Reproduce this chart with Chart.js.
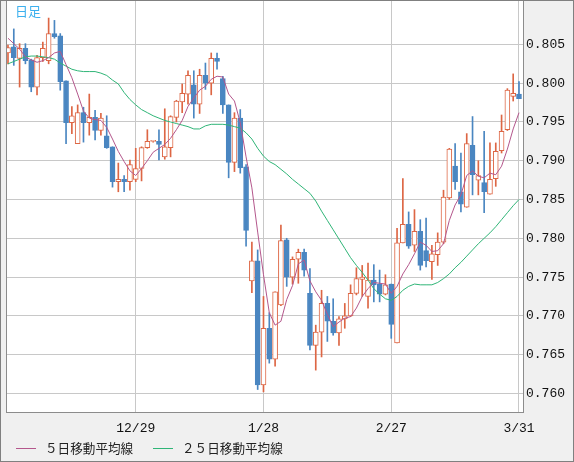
<!DOCTYPE html>
<html lang="ja">
<head>
<meta charset="utf-8">
<title>日足</title>
<script src="https://cdn.jsdelivr.net/npm/chart.js@4/dist/chart.umd.min.js"></script>
<style>
  html, body { margin: 0; padding: 0; background: #f0f0f0; }
  #wrap { position: relative; width: 574px; height: 462px; }
  #title { position: absolute; left: 15px; top: 4px; font: 13px/13px "Noto Sans CJK JP"; color: #3cb0ee; }
  .lg-line { position: absolute; top: 448px; width: 20px; height: 1px; }
  .lg-text { position: absolute; top: 440px; font: 12.6px/16px "Noto Sans CJK JP"; color: #222; white-space: nowrap; }
</style>
</head>
<body>
<div id="wrap">
  <canvas id="chart"></canvas>
  <div id="title">日足</div>
  <div class="lg-line" style="left:16px; background:#b4578c"></div>
  <div class="lg-text" style="left:45px">５日移動平均線</div>
  <div class="lg-line" style="left:153px; background:#2fb577"></div>
  <div class="lg-text" style="left:182px">２５日移動平均線</div>
</div>
<script>
// x axis labels and the candle index they sit on
const dateLabels = ["12/29", "1/28", "2/27", "3/31"];
const dateIndex = [22, 44, 66, 88];
const priceTicks = [0.760, 0.765, 0.770, 0.775, 0.780, 0.785, 0.790, 0.795, 0.800, 0.805];

// daily candles
const opens = [
  0.8039, 0.8047, 0.8032, 0.8045, 0.8030, 0.7995, 0.8033, 0.8029, 0.8064, 0.8061,
  0.8003, 0.7949, 0.7922, 0.7962, 0.7949, 0.7956, 0.7939, 0.7932, 0.7918, 0.7873,
  0.7876, 0.7873, 0.7876, 0.7890, 0.7917, 0.7925, 0.7925, 0.7905, 0.7917, 0.7956,
  0.7976, 0.7986, 0.7998, 0.7973, 0.8010, 0.8000, 0.8032, 0.8006, 0.7972, 0.7898,
  0.7955, 0.7892, 0.7745, 0.7771, 0.7611, 0.7684, 0.7644, 0.7714, 0.7798, 0.7750,
  0.7773, 0.7782, 0.7729, 0.7662, 0.7679, 0.7716, 0.7693, 0.7678, 0.7696, 0.7700,
  0.7729, 0.7747, 0.7725, 0.7746, 0.7741, 0.7728, 0.7741, 0.7665, 0.7794, 0.7818,
  0.7791, 0.7809, 0.7784, 0.7770, 0.7779, 0.7795, 0.7852, 0.7893, 0.7860, 0.7840,
  0.7920, 0.7875, 0.7872, 0.7857, 0.7877, 0.7913, 0.7940, 0.7983, 0.7986
];
const highs = [
  0.8049, 0.8070, 0.8051, 0.8051, 0.8031, 0.8036, 0.8053, 0.8084, 0.8081, 0.8064,
  0.8003, 0.7970, 0.7972, 0.7969, 0.7986, 0.7965, 0.7961, 0.7958, 0.7918, 0.7897,
  0.7881, 0.7901, 0.7916, 0.7918, 0.7940, 0.7926, 0.7940, 0.7967, 0.7958, 0.7978,
  0.7999, 0.8016, 0.8016, 0.8018, 0.8026, 0.8039, 0.8039, 0.8009, 0.7972, 0.7962,
  0.7966, 0.7895, 0.7795, 0.7785, 0.7725, 0.7704, 0.7731, 0.7817, 0.7800, 0.7776,
  0.7786, 0.7786, 0.7761, 0.7688, 0.7733, 0.7725, 0.7722, 0.7699, 0.7716, 0.7740,
  0.7762, 0.7765, 0.7768, 0.7766, 0.7759, 0.7753, 0.7741, 0.7813, 0.7877, 0.7834,
  0.7837, 0.7824, 0.7826, 0.7791, 0.7807, 0.7862, 0.7916, 0.7922, 0.7910, 0.7935,
  0.7957, 0.7900, 0.7938, 0.7923, 0.7923, 0.7959, 0.7993, 0.8012, 0.8002
];
const lows = [
  0.8025, 0.8023, 0.7995, 0.8025, 0.7989, 0.7985, 0.8028, 0.8025, 0.8058, 0.7991,
  0.7922, 0.7935, 0.7922, 0.7924, 0.7933, 0.7927, 0.7933, 0.7916, 0.7866, 0.7860,
  0.7860, 0.7862, 0.7873, 0.7874, 0.7916, 0.7924, 0.7901, 0.7902, 0.7905, 0.7950,
  0.7962, 0.7973, 0.7955, 0.7961, 0.7992, 0.7985, 0.8018, 0.7961, 0.7878, 0.7886,
  0.7884, 0.7790, 0.7730, 0.7605, 0.7602, 0.7639, 0.7635, 0.7713, 0.7738, 0.7741,
  0.7742, 0.7751, 0.7656, 0.7630, 0.7647, 0.7667, 0.7675, 0.7662, 0.7684, 0.7699,
  0.7727, 0.7725, 0.7710, 0.7718, 0.7718, 0.7727, 0.7671, 0.7665, 0.7794, 0.7787,
  0.7783, 0.7759, 0.7763, 0.7747, 0.7765, 0.7793, 0.7850, 0.7863, 0.7834, 0.7840,
  0.7856, 0.7856, 0.7833, 0.7857, 0.7867, 0.7910, 0.7939, 0.7977, 0.7980
];
const closes = [
  0.8046, 0.8033, 0.8045, 0.8029, 0.7995, 0.8033, 0.8045, 0.8064, 0.8060, 0.8002,
  0.7949, 0.7958, 0.7962, 0.7949, 0.7956, 0.7939, 0.7955, 0.7917, 0.7873, 0.7876,
  0.7873, 0.7895, 0.7890, 0.7917, 0.7925, 0.7926, 0.7921, 0.7918, 0.7957, 0.7977,
  0.7987, 0.8010, 0.7973, 0.8010, 0.8000, 0.8032, 0.8028, 0.7972, 0.7898, 0.7955,
  0.7891, 0.7810, 0.7771, 0.7611, 0.7684, 0.7644, 0.7731, 0.7797, 0.7750, 0.7773,
  0.7782, 0.7759, 0.7662, 0.7679, 0.7716, 0.7693, 0.7678, 0.7696, 0.7700, 0.7729,
  0.7748, 0.7750, 0.7746, 0.7740, 0.7728, 0.7740, 0.7689, 0.7794, 0.7818, 0.7790,
  0.7809, 0.7765, 0.7771, 0.7780, 0.7795, 0.7853, 0.7915, 0.7873, 0.7844, 0.7922,
  0.7882, 0.7881, 0.7860, 0.7876, 0.7912, 0.7938, 0.7991, 0.7987, 0.7980
];
// moving averages as drawn on the picture
const ma5 = [
  0.8058, 0.8051, 0.8044, 0.8034, 0.8030, 0.8027, 0.8029, 0.8033, 0.8039, 0.8041,
  0.8024, 0.8007, 0.7986, 0.7964, 0.7955, 0.7953, 0.7952, 0.7943, 0.7928, 0.7912,
  0.7899, 0.7887, 0.7881, 0.7890, 0.7900, 0.7911, 0.7916, 0.7921, 0.7929, 0.7940,
  0.7952, 0.7970, 0.7981, 0.7991, 0.7996, 0.8005, 0.8009, 0.8008, 0.7986, 0.7977,
  0.7949, 0.7905, 0.7865, 0.7808, 0.7753, 0.7704, 0.7688, 0.7693, 0.7721, 0.7739,
  0.7767, 0.7772, 0.7745, 0.7731, 0.7720, 0.7702, 0.7686, 0.7692, 0.7697, 0.7699,
  0.7710, 0.7725, 0.7735, 0.7743, 0.7742, 0.7741, 0.7729, 0.7738, 0.7754, 0.7766,
  0.7780, 0.7795, 0.7791, 0.7783, 0.7784, 0.7793, 0.7823, 0.7843, 0.7856, 0.7881,
  0.7887, 0.7880, 0.7878, 0.7884, 0.7882, 0.7893, 0.7915, 0.7941, 0.7962
];
const ma25 = [
  0.8025, 0.8028, 0.8031, 0.8034, 0.8035, 0.8035, 0.8034, 0.8033, 0.8031, 0.8026,
  0.8022, 0.8018, 0.8016, 0.8015, 0.8015, 0.8015, 0.8013, 0.8010, 0.8004, 0.7999,
  0.7988, 0.7979, 0.7972, 0.7966, 0.7962, 0.7958, 0.7955, 0.7952, 0.7950, 0.7948,
  0.7946, 0.7944, 0.7941, 0.7941, 0.7945, 0.7947, 0.7947, 0.7947, 0.7946, 0.7944,
  0.7942, 0.7936, 0.7928, 0.7916, 0.7906, 0.7899, 0.7895, 0.7889, 0.7883, 0.7876,
  0.7870, 0.7864, 0.7858, 0.7848, 0.7835, 0.7823, 0.7811, 0.7799, 0.7787, 0.7775,
  0.7765, 0.7756, 0.7746, 0.7735, 0.7728, 0.7722, 0.7720, 0.7725, 0.7733, 0.7738,
  0.7741, 0.7740, 0.7740, 0.7740, 0.7743, 0.7748, 0.7754, 0.7762, 0.7769, 0.7777,
  0.7785, 0.7793, 0.7800, 0.7807, 0.7815, 0.7824, 0.7833, 0.7842, 0.7850
];

const UP = "#dd6644";
const DOWN = "#4a86c1";
const isUp = i => closes[i] >= opens[i];

// grey surround, white plot, thin frames
const framePlugin = {
  id: "frame",
  beforeDraw(chart) {
    const { ctx, chartArea: a, width, height } = chart;
    ctx.save();
    ctx.fillStyle = "#f0f0f0";
    ctx.fillRect(0, 0, width, height);
    ctx.fillStyle = "#ffffff";
    ctx.fillRect(a.left, a.top, a.right - a.left, a.bottom - a.top);
    ctx.restore();
  },
  afterDraw(chart) {
    const { ctx, chartArea: a, width, height } = chart;
    ctx.save();
    ctx.lineWidth = 1;
    ctx.strokeStyle = "#8c8c8c";
    ctx.strokeRect(a.left - 0.5, a.top - 0.5, a.right - a.left + 1, a.bottom - a.top + 1);
    ctx.strokeStyle = "#808080";
    ctx.strokeRect(0.5, 0.5, width - 1, height - 1);
    ctx.restore();
  }
};

const tickFont = { family: "Liberation Mono", size: 13 };

new Chart(document.getElementById("chart"), {
  type: "bar",
  data: {
    datasets: [
      {
        label: "wick",
        data: highs.map((h, i) => ({ x: i, y: [lows[i], h] })),
        backgroundColor: c => isUp(c.dataIndex) ? UP : DOWN,
        barThickness: 1,
        grouped: false,
        order: 3
      },
      {
        label: "body",
        data: opens.map((o, i) => ({ x: i, y: [o, closes[i]] })),
        backgroundColor: c => isUp(c.dataIndex) ? "#ffffff" : DOWN,
        borderColor: c => isUp(c.dataIndex) ? UP : DOWN,
        borderWidth: 1,
        borderSkipped: false,
        barThickness: 5,
        minBarLength: 1,
        grouped: false,
        order: 2
      },
      {
        type: "line",
        label: "５日移動平均線",
        data: ma5.map((v, i) => ({ x: i, y: v })),
        borderColor: "#b4578c",
        borderWidth: 1,
        pointRadius: 0,
        tension: 0,
        order: 1
      },
      {
        type: "line",
        label: "２５日移動平均線",
        data: ma25.map((v, i) => ({ x: i, y: v })),
        borderColor: "#2fb577",
        borderWidth: 1,
        pointRadius: 0,
        tension: 0,
        order: 1
      }
    ]
  },
  options: {
    responsive: true,
    maintainAspectRatio: false,
    animation: false,
    layout: { padding: { left: 7, top: 1, right: 0, bottom: 27 } },
    plugins: { legend: { display: false }, tooltip: { enabled: false } },
    scales: {
      x: {
        type: "linear",
        min: -0.17,
        max: 88.69,
        offset: false,
        grid: { color: "#c8c8c8", drawTicks: false, offset: false },
        border: { display: false },
        afterBuildTicks: s => { s.ticks = dateIndex.map(v => ({ value: v })); },
        afterFit: s => { s.height = 23; },
        ticks: {
          autoSkip: false,
          maxRotation: 0,
          padding: 9,
          color: "#111",
          font: tickFont,
          callback: (v, i) => dateLabels[i]
        }
      },
      y: {
        type: "linear",
        position: "right",
        min: 0.7576,
        max: 0.8106,
        beginAtZero: false,
        grid: { color: "#c8c8c8", drawTicks: false },
        border: { display: false },
        afterBuildTicks: s => { s.ticks = priceTicks.map(v => ({ value: v })); },
        // fixed width, and no label overhang so the plot reaches the top edge
        afterFit: s => { s.width = 51; s.paddingTop = 0; s.paddingBottom = 0; },
        ticks: {
          padding: 3,
          color: "#111",
          font: tickFont,
          callback: v => v.toFixed(3)
        }
      }
    }
  },
  plugins: [framePlugin]
});
</script>
</body>
</html>
